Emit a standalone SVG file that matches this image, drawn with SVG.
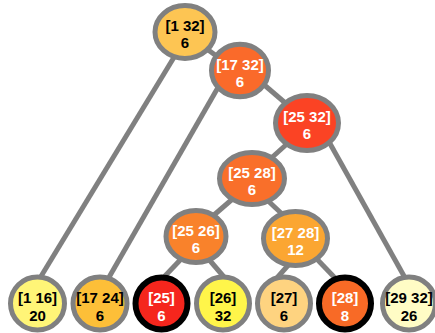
<svg xmlns="http://www.w3.org/2000/svg" width="435" height="333" viewBox="0 0 435 333">
<style>
.e{stroke:#808080;stroke-width:5;stroke-linecap:butt;fill:none}
.n{stroke:#808080;stroke-width:5}
.b{stroke:#000;stroke-width:6}
text{font-family:"Liberation Sans",Arial,sans-serif;font-weight:bold;font-size:15px;text-anchor:middle}
.w{fill:#fff}
.k{fill:#000}
</style>
<rect width="435" height="333" fill="#fff"/>
<g id="edges">
<line class="e" x1="176" y1="54" x2="40" y2="278"/>
<line class="e" x1="200" y1="44" x2="222" y2="60"/>
<line class="e" x1="220" y1="84" x2="108" y2="279"/>
<line class="e" x1="262" y1="83" x2="290" y2="107"/>
<line class="e" x1="288" y1="143" x2="268" y2="161"/>
<line class="e" x1="328" y1="140" x2="404" y2="276"/>
<line class="e" x1="236" y1="196" x2="214" y2="215"/>
<line class="e" x1="265" y1="198" x2="281" y2="213"/>
<line class="e" x1="184" y1="256" x2="164" y2="277"/>
<line class="e" x1="206" y1="256" x2="224" y2="277"/>
<line class="e" x1="291" y1="262" x2="276" y2="279"/>
<line class="e" x1="313" y1="255" x2="336" y2="279"/>
</g>
<g id="n1_32"><ellipse class="n" cx="185" cy="32" rx="30" ry="26.5" fill="#fdc553"/><text class="k" x="185" y="31">[1 32]</text><text class="k" x="185" y="48">6</text></g>
<g id="n17_32"><ellipse class="n" cx="240" cy="70.5" rx="28.5" ry="26.3" fill="#fa6a2a"/><text class="w" x="240" y="69.5">[17 32]</text><text class="w" x="240" y="86.5">6</text></g>
<g id="n25_32"><ellipse class="n" cx="307" cy="123" rx="31.5" ry="27.5" fill="#fb4324"/><text class="w" x="307" y="122">[25 32]</text><text class="w" x="307" y="139">6</text></g>
<g id="n25_28"><ellipse class="n" cx="252" cy="178.5" rx="32.5" ry="26" fill="#f96f2a"/><text class="w" x="252" y="177.5">[25 28]</text><text class="w" x="252" y="194.5">6</text></g>
<g id="n25_26"><ellipse class="n" cx="196" cy="236.5" rx="30" ry="26" fill="#f9822b"/><text class="w" x="196" y="235.5">[25 26]</text><text class="w" x="196" y="252.5">6</text></g>
<g id="n27_28"><ellipse class="n" cx="295.5" cy="238.5" rx="32" ry="27" fill="#fba632"/><text class="w" x="295.5" y="237.5">[27 28]</text><text class="w" x="295.5" y="254.5">12</text></g>
<g id="n1_16"><ellipse class="n" cx="37.5" cy="303.5" rx="27" ry="26.5" fill="#fff577"/><text class="k" x="37.5" y="302.5">[1 16]</text><text class="k" x="37.5" y="320.5">20</text></g>
<g id="n17_24"><ellipse class="n" cx="100" cy="303.5" rx="27" ry="26.5" fill="#fdbf38"/><text class="k" x="100" y="302.5">[17 24]</text><text class="k" x="100" y="320.5">6</text></g>
<g id="n25"><ellipse class="b" cx="161.5" cy="303.5" rx="26" ry="26" fill="#f5261d"/><text class="w" x="161.5" y="302.5">[25]</text><text class="w" x="161.5" y="320.5">6</text></g>
<g id="n26"><ellipse class="n" cx="223" cy="303.5" rx="26.5" ry="26.5" fill="#fff54a"/><text class="k" x="223" y="302.5">[26]</text><text class="k" x="223" y="320.5">32</text></g>
<g id="n27"><ellipse class="n" cx="284" cy="303.5" rx="26.5" ry="26.5" fill="#fed380"/><text class="k" x="284" y="302.5">[27]</text><text class="k" x="284" y="320.5">6</text></g>
<g id="n28"><ellipse class="b" cx="345" cy="303.5" rx="26" ry="26" fill="#f86a26"/><text class="w" x="345" y="302.5">[28]</text><text class="w" x="345" y="320.5">8</text></g>
<g id="n29_32"><ellipse class="n" cx="409" cy="303.5" rx="26.5" ry="26.5" fill="#fffcc5"/><text class="k" x="409" y="302.5">[29 32]</text><text class="k" x="409" y="320.5">26</text></g>
</svg>
